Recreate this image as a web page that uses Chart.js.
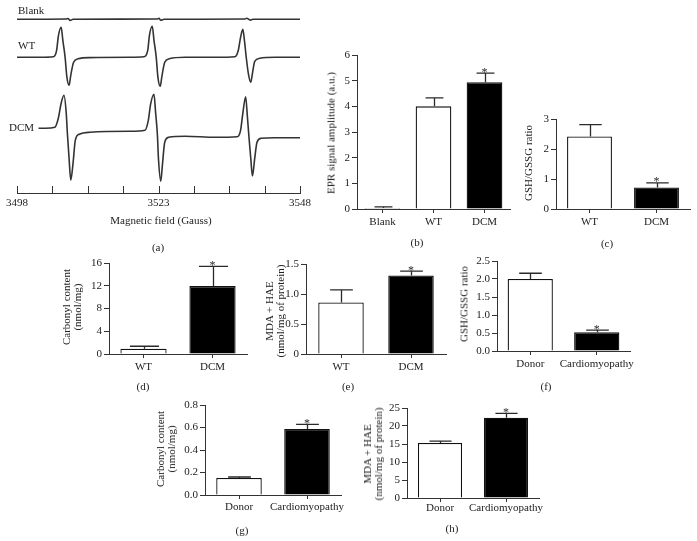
<!DOCTYPE html>
<html><head><meta charset="utf-8">
<script src="https://cdn.jsdelivr.net/npm/chart.js@4.4.1/dist/chart.umd.min.js"></script>
<style>
html,body{margin:0;padding:0;background:#fff;}
#fig{position:relative;width:697px;height:541px;overflow:hidden;font-family:"Liberation Serif","Times New Roman",serif;color:#222;}
.box{position:absolute;}
.t{position:absolute;font-size:11px;line-height:11px;white-space:nowrap;text-align:center;transform:translate(-50%,-50%);}
.l{transform:translate(0,-50%);text-align:left;}
.rot{transform:translate(-50%,-50%) rotate(-90deg);}
</style></head><body><div id="fig"></div>
<script>
// ---------- DATA ----------
// (a) EPR spectra: magnetic field (Gauss) and signal (a.u., relative to each trace's baseline)
const blankG = [3498, 3506.7, 3507.0, 3507.4, 3507.9, 3522.7, 3523.1, 3523.4, 3524.0, 3538.3, 3538.6, 3539.2, 3539.7, 3548];
const blankS = [0, 0.3, 0.8, -1.2, 0, 0.3, 1, -1, 0, 0.3, 1, -0.8, 0, 0];
const wtG = [3498, 3502.1, 3504.4, 3505.0, 3505.3, 3505.8, 3506.1, 3506.5, 3506.8, 3507.2, 3507.5, 3508.0, 3508.8, 3510.9,
  3518.0, 3520.4, 3521.1, 3521.4, 3521.9, 3522.2, 3522.6, 3522.9, 3523.3, 3523.6, 3524.1, 3524.9, 3527.7,
  3533.0, 3536.5, 3537.1, 3537.5, 3537.9, 3538.2, 3538.5, 3538.9, 3539.3, 3539.6, 3540.0, 3540.9, 3543.6, 3548];
const wtS = [0, 0, 0.5, 7, 21, 30, 17, 0, -19, -28, -18, -5, -1.5, -0.3,
  0, 0.5, 7, 22, 31, 17, 0, -20, -29, -19, -5, -1.5, 0,
  0, 0.5, 7, 20, 28, 16, 0, -17, -25, -16, -4, -1, 0, 0];
const dcmG = [3501.8, 3503.0, 3504.7, 3505.3, 3505.8, 3506.3, 3506.7, 3506.9, 3507.2, 3507.5, 3507.9, 3508.3, 3509.0, 3510.9,
  3518.0, 3520.6, 3521.2, 3521.6, 3522.2, 3522.5, 3522.8, 3523.0, 3523.4, 3523.7, 3524.1, 3524.8, 3527.7,
  3533.0, 3536.9, 3537.5, 3537.9, 3538.4, 3538.7, 3539.0, 3539.3, 3539.6, 3540.0, 3540.4, 3541.1, 3543.6, 3548];
const dcmS = [0, 0, 1, 10, 25, 33, 15, -5, -30, -52, -35, -12, -6, -4,
  -3, -2, 8, 24, 34, 15, -6, -31, -53, -36, -14, -9, -8,
  -9, -8.5, -2, 15, 31.6, 12, -10, -30, -47.7, -30, -14, -10, -9.4, -9.4];
const aTickLabels = [3498, 3523, 3548];

// (b) EPR signal amplitude
const bCats = ['Blank', 'WT', 'DCM'];
const bVals = [0.04, 4.0, 4.94];
const bErr = [0.04, 0.33, 0.35];
const bStar = ['', '', '*'];
const bTicks = [0, 1, 2, 3, 4, 5, 6];
// (c) GSH/GSSG ratio (mouse)
const cCats = ['WT', 'DCM'];
const cVals = [2.42, 0.72];
const cErr = [0.39, 0.15];
const cStar = ['', '*'];
const cTicks = [0, 1, 2, 3];
// (d) Carbonyl content (mouse)
const dCats = ['WT', 'DCM'];
const dVals = [0.94, 11.94];
const dErr = [0.42, 3.46];
const dStar = ['', '*'];
const dTicks = [0, 4, 8, 12, 16];
// (e) MDA + HAE (mouse)
const eCats = ['WT', 'DCM'];
const eVals = [0.86, 1.31];
const eErr = [0.21, 0.07];
const eStar = ['', '*'];
const eTicks = [0, 0.5, 1.0, 1.5];
// (f) GSH/GSSG ratio (human)
const fCats = ['Donor', 'Cardiomyopathy'];
const fVals = [2.0, 0.52];
const fErr = [0.16, 0.06];
const fStar = ['', '*'];
const fTicks = [0, 0.5, 1.0, 1.5, 2.0, 2.5];
// (g) Carbonyl content (human)
const gCats = ['Donor', 'Cardiomyopathy'];
const gVals = [0.151, 0.587];
const gErr = [0.009, 0.041];
const gStar = ['', '*'];
const gTicks = [0, 0.2, 0.4, 0.6, 0.8];
// (h) MDA + HAE (human)
const hCats = ['Donor', 'Cardiomyopathy'];
const hVals = [15.3, 22.3];
const hErr = [0.5, 1.2];
const hStar = ['', '*'];
const hTicks = [0, 5, 10, 15, 20, 25];

// ---------- RENDERING ----------
Chart.defaults.font.family = '"Liberation Serif","Times New Roman",serif';
Chart.defaults.font.size = 11;
Chart.defaults.color = '#222';
const fig = document.getElementById('fig');
const INK = '#2a2a2a';

function txt(s, x, y, cls) {
  const d = document.createElement('div');
  d.className = 't' + (cls ? ' ' + cls : '');
  d.innerHTML = s;
  d.style.left = x + 'px'; d.style.top = y + 'px';
  fig.appendChild(d);
}
function mkCanvas(left, top, W, H) {
  const div = document.createElement('div');
  div.className = 'box';
  div.style.cssText = `left:${left}px;top:${top}px;width:${W}px;height:${H}px`;
  const cv = document.createElement('canvas');
  cv.width = W; cv.height = H; cv.style.width = W + 'px'; cv.style.height = H + 'px';
  div.appendChild(cv); fig.appendChild(div);
  return cv;
}

const errPlugin = {
  id: 'errbars',
  afterDatasetsDraw(chart) {
    const ctx = chart.ctx, ys = chart.scales.y;
    const ds = chart.data.datasets[0];
    chart.getDatasetMeta(0).data.forEach((bar, i) => {
      const yT = ys.getPixelForValue(ds.data[i] + ds.errors[i]);
      const x = Math.round(bar.x) + 0.5, w = bar.width * ds.capFrac;
      ctx.save();
      ctx.strokeStyle = INK; ctx.lineWidth = 1.3;
      ctx.beginPath();
      ctx.moveTo(x, bar.y); ctx.lineTo(x, yT);
      ctx.moveTo(x - w / 2, yT); ctx.lineTo(x + w / 2, yT);
      ctx.stroke();
      if (ds.stars[i]) {
        ctx.fillStyle = INK; ctx.font = '12px "Liberation Serif"';
        ctx.textAlign = 'center'; ctx.textBaseline = 'alphabetic';
        ctx.fillText(ds.stars[i], bar.x, yT + 2.5);
      }
      ctx.restore();
    });
  }
};

function barChart(geo, cats, vals, errs, stars, ticks, fmt) {
  const padL = 45, padT = 10, padR = 40, padB = 30;
  const W = Math.round(geo.x1 - geo.x0) + padL + padR;
  const H = Math.round(geo.yBot - geo.yTop) + padT + padB;
  const cv = mkCanvas(Math.round(geo.x0) - padL, Math.round(geo.yTop) - padT, W, H);
  const fills = cats.map((c, i) => i === cats.length - 1 ? '#000' : '#fff');
  new Chart(cv, {
    type: 'bar',
    data: { labels: cats, datasets: [{ data: vals, errors: errs, stars: stars, capFrac: geo.cap || 0.5,
      backgroundColor: fills, borderColor: '#111', borderWidth: 1.3,
      barPercentage: geo.bp || 0.67, categoryPercentage: 1 }] },
    options: {
      responsive: false, animation: false, events: [],
      layout: { padding: { left: 0, top: padT, right: padR, bottom: 0 } },
      plugins: { legend: { display: false }, tooltip: { enabled: false } },
      scales: {
        x: {
          grid: { display: true, drawOnChartArea: false, offset: false, tickLength: 4, color: '#333' },
          border: { display: true, color: '#333', width: 1 },
          ticks: { padding: geo.lp ?? 3, maxRotation: 0, minRotation: 0, autoSkip: false, color: '#222' },
          afterFit: s => { s.height = padB; }
        },
        y: {
          min: ticks[0], max: ticks[ticks.length - 1],
          afterBuildTicks: s => { s.ticks = ticks.map(v => ({ value: v })); },
          grid: { display: true, drawOnChartArea: false, tickLength: 5, color: '#333' },
          border: { display: true, color: '#333', width: 1 },
          ticks: { padding: 2, color: '#222', callback: v => fmt(v) },
          afterFit: s => { s.width = padL; }
        }
      }
    },
    plugins: [errPlugin]
  });
}

// ----- (a) spectra -----
(function () {
  const W = 330, H = 215, top = 5, bottom = 193, left = 17, right = 300;
  const cv = mkCanvas(0, 0, W, H);
  const offsets = { blank: 173.7, wt: 135.7, dcm: 64.7 };
  const mk = (G, S, off) => G.map((g, i) => ({ x: g, y: S[i] + off }));
  const upTicks = {
    id: 'upTicks',
    afterDraw(chart) {
      const s = chart.scales.x, ctx = chart.ctx, yb = chart.chartArea.bottom;
      ctx.save(); ctx.strokeStyle = '#333'; ctx.lineWidth = 1;
      s.ticks.forEach(t => {
        const x = Math.round(s.getPixelForValue(t.value)) + 0.5;
        ctx.beginPath(); ctx.moveTo(x, yb + 0.5); ctx.lineTo(x, yb - 7); ctx.stroke();
      });
      ctx.restore();
    }
  };
  const line = { borderColor: '#333', borderWidth: 1.6, pointRadius: 0, cubicInterpolationMode: 'monotone', fill: false };
  new Chart(cv, {
    type: 'line',
    data: { datasets: [
      Object.assign({ data: mk(blankG, blankS, offsets.blank) }, line),
      Object.assign({ data: mk(wtG, wtS, offsets.wt) }, line),
      Object.assign({ data: mk(dcmG, dcmS, offsets.dcm) }, line)
    ] },
    options: {
      responsive: false, animation: false, events: [],
      layout: { padding: { left: left, top: top, right: W - right, bottom: 0 } },
      plugins: { legend: { display: false }, tooltip: { enabled: false } },
      scales: {
        x: {
          type: 'linear', min: 3498, max: 3548,
          grid: { display: true, drawOnChartArea: false, drawTicks: false },
          border: { display: true, color: '#333', width: 1 },
          ticks: { stepSize: 6.25, autoSkip: false, maxRotation: 0, padding: 4, color: '#222',
            callback: v => aTickLabels.includes(v) ? String(v) : '' },
          afterFit: s => { s.height = H - bottom; }
        },
        y: { display: false, min: 0, max: bottom - top }
      }
    },
    plugins: [upTicks]
  });
  txt('Blank', 18, 10, 'l');
  txt('WT', 18, 45, 'l');
  txt('DCM', 9, 127, 'l');
  txt('Magnetic field (Gauss)', 161, 220);
  txt('(a)', 158, 247);
})();

// ----- bar panels -----
const intFmt = v => String(v);
const oneDec = v => v.toFixed(1);
barChart({ x0: 357.3, x1: 510.3, yTop: 55, yBot: 209.3, bp: 0.7 }, bCats, bVals, bErr, bStar, bTicks, intFmt);
barChart({ x0: 556, x1: 690, yTop: 119, yBot: 209.3 }, cCats, cVals, cErr, cStar, cTicks, intFmt);
barChart({ x0: 109, x1: 247, yTop: 263.3, yBot: 354, cap: 0.63 }, dCats, dVals, dErr, dStar, dTicks, intFmt);
barChart({ x0: 306, x1: 446, yTop: 264, yBot: 354, bp: 0.65 }, eCats, eVals, eErr, eStar, eTicks, v => v === 0 ? '0' : v.toFixed(1));
barChart({ x0: 497.3, x1: 630.7, yTop: 261, yBot: 351, bp: 0.68 }, fCats, fVals, fErr, fStar, fTicks, oneDec);
barChart({ x0: 205, x1: 341, yTop: 404.7, yBot: 494.7, lp: 2 }, gCats, gVals, gErr, gStar, gTicks, oneDec);
barChart({ x0: 406.5, x1: 538.5, yTop: 408.3, yBot: 498.3, lp: 0 }, hCats, hVals, hErr, hStar, hTicks, intFmt);

// axis titles and panel letters
txt('EPR signal amplitude (a.u.)', 331, 133, 'rot');
txt('(b)', 417, 242);
txt('GSH/GSSG ratio', 528, 163, 'rot');
txt('(c)', 607, 243);
txt('Carbonyl content<br>(nmol/mg)', 72, 307, 'rot');
txt('(d)', 143, 386);
txt('MDA + HAE<br>(nmol/mg of protein)', 275, 311, 'rot');
txt('(e)', 348, 386);
txt('GSH/GSSG ratio', 464, 304, 'rot');
txt('(f)', 546, 386);
txt('Carbonyl content<br>(nmol/mg)', 165.5, 449, 'rot');
txt('(g)', 242, 530);
txt('MDA + HAE<br>(nmol/mg of protein)', 373, 454, 'rot');
txt('(h)', 452, 528);
</script></body></html>
